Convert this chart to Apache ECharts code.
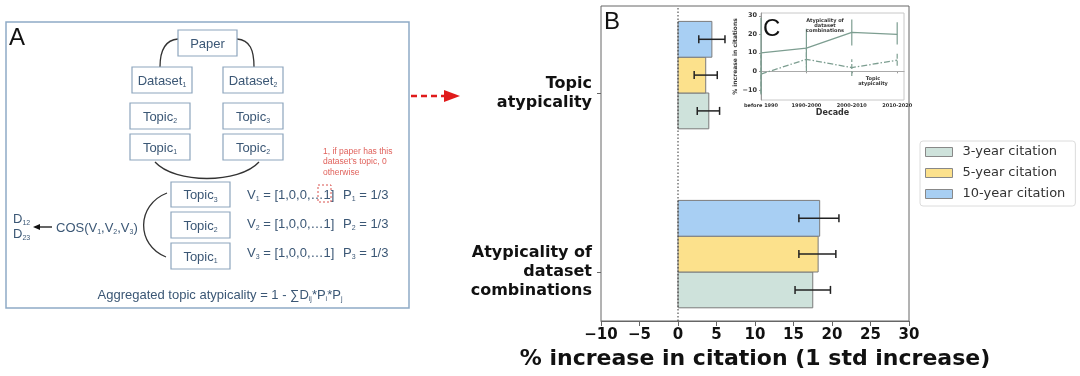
<!DOCTYPE html>
<html>
<head>
<meta charset="utf-8">
<script src="https://cdn.jsdelivr.net/npm/echarts@6/dist/echarts.min.js"></script>
<style>
  html, body { margin: 0; padding: 0; background: #fff; }
  #chart { width: 1080px; height: 376px; }
</style>
</head>
<body>
<div id="chart"></div>
<script>
// ---- panel B data (bars + std error bounds) ----
const mainCats = ['Atypicality of\ndataset\ncombinations', 'Topic\natypicality'];
const seriesNames = ['3-year citation', '5-year citation', '10-year citation'];
const val3yr = [17.5, 4.0];
const low3yr = [15.2, 2.5];
const high3yr = [19.8, 5.4];
const val5yr = [18.2, 3.6];
const low5yr = [15.7, 2.1];
const high5yr = [20.5, 5.1];
const val10yr = [18.4, 4.4];
const low10yr = [15.7, 2.7];
const high10yr = [20.9, 6.1];

// ---- panel C inset data ----
const decades = ['before 1990', '1990-2000', '2000-2010', '2010-2020'];
const comboLine = [10, 12.5, 21, 20];
const comboLow = [-12.5, 2, 14, 14.5];
const comboHigh = [29, 23, 28, 26.5];
const topicLine = [-1.5, 6.5, 2, 6];
const topicLow = [-12, 0, -2.5, 3];
const topicHigh = [9, 13, 6.5, 10];

const barColors = ['#cee2db', '#fce18c', '#a8cff3'];
const lineColor = '#7d9e91';

const chart = echarts.init(document.getElementById('chart'));

function barData(vals, lows, highs) {
  return mainCats.map(function (c, i) { return [vals[i], i, lows[i], highs[i]]; });
}

// slot: 0 = just below category centre, -1 / -2 stacked upward
function barRender(slot, color) {
  return function (params, api) {
    const cat = api.value(1);
    const c0 = api.coord([0, cat]);
    const c1 = api.coord([api.value(0), cat]);
    const h = api.size([0, 1])[1] * 0.2;
    const top = c0[1] + slot * h;
    const ym = top + h / 2;
    const lo = api.coord([api.value(2), cat])[0];
    const hi = api.coord([api.value(3), cat])[0];
    const errStyle = { stroke: '#222', lineWidth: 1.5 };
    return {
      type: 'group',
      children: [
        { type: 'rect', shape: { x: c0[0], y: top, width: c1[0] - c0[0], height: h },
          style: { fill: color, stroke: '#7a7a7a', lineWidth: 1 } },
        { type: 'line', shape: { x1: lo, y1: ym, x2: hi, y2: ym }, style: errStyle },
        { type: 'line', shape: { x1: lo, y1: ym - 4, x2: lo, y2: ym + 4 }, style: errStyle },
        { type: 'line', shape: { x1: hi, y1: ym - 4, x2: hi, y2: ym + 4 }, style: errStyle }
      ]
    };
  };
}

function errRender(dash) {
  return function (params, api) {
    const p0 = api.coord([api.value(0), api.value(1)]);
    const p1 = api.coord([api.value(0), api.value(2)]);
    return { type: 'line', shape: { x1: p0[0], y1: p0[1], x2: p1[0], y2: p1[1] },
      style: { stroke: lineColor, lineWidth: 1.2, lineDash: dash } };
  };
}

function minus(v) { return v < 0 ? '\u2212' + Math.abs(v) : String(v); }

// ---- panel A diagram helpers ----
const aFont = '"Liberation Sans", Arial, sans-serif';
const boxText = '#3b5775';
const richA = {
  n: { fontSize: 13, fontFamily: aFont, fill: boxText, lineHeight: 16 },
  s: { fontSize: 7, fontFamily: aFont, fill: boxText, lineHeight: 9, verticalAlign: 'bottom' }
};
function aText(x, y, txt, align) {
  return { type: 'text', x: x, y: y, style: { text: txt, rich: richA, align: align || 'left', verticalAlign: 'middle' } };
}
function aBox(x, y, w, h, txt) {
  return [
    { type: 'rect', shape: { x: x, y: y, width: w, height: h }, style: { fill: '#fff', stroke: '#8da5bd', lineWidth: 1.2 } },
    aText(x + w / 2, y + h / 2 + 1, txt, 'center')
  ];
}
function curve(pts) {
  return { type: 'bezierCurve', shape: { x1: pts[0], y1: pts[1], cpx1: pts[2], cpy1: pts[3], cpx2: pts[4], cpy2: pts[5], x2: pts[6], y2: pts[7] },
    style: { stroke: '#333', lineWidth: 1.3, fill: null } };
}

let graphics = [
  { type: 'rect', shape: { x: 6, y: 22, width: 403, height: 286 }, style: { fill: null, stroke: '#8eaac6', lineWidth: 1.5 } },
  { type: 'text', x: 9, y: 26, style: { text: 'A', fontSize: 24, fontFamily: aFont, fill: '#111' } },
  { type: 'text', x: 604, y: 10, style: { text: 'B', fontSize: 24, fontFamily: aFont, fill: '#111' } },
  { type: 'text', x: 763, y: 17, z: 20, style: { text: 'C', fontSize: 24, fontFamily: aFont, fill: '#111' } },
  curve([178, 39, 165, 40, 160, 50, 160, 67]),
  curve([237, 39, 250, 40, 254, 50, 254, 67]),
  curve([155, 162, 175, 184, 239, 184, 259, 162]),
  curve([167, 193, 136, 205, 136, 245, 166, 257]),
  { type: 'line', shape: { x1: 52, y1: 227, x2: 38, y2: 227 }, style: { stroke: '#111', lineWidth: 1.3 } },
  { type: 'polygon', shape: { points: [[33, 227], [40, 224], [40, 230]] }, style: { fill: '#111' } },
  aText(13, 219, '{n|D}{s|12}'),
  aText(13, 234, '{n|D}{s|23}'),
  aText(56, 228, '{n|COS(V}{s|1}{n|,V}{s|2}{n|,V}{s|3}{n|)}'),
  aText(247, 195, '{n|V}{s|1}{n| = [1,0,0,…1]}'),
  aText(247, 224, '{n|V}{s|2}{n| = [1,0,0,…1]}'),
  aText(247, 253, '{n|V}{s|3}{n| = [1,0,0,…1]}'),
  aText(343, 195, '{n|P}{s|1}{n| = 1/3}'),
  aText(343, 224, '{n|P}{s|2}{n| = 1/3}'),
  aText(343, 253, '{n|P}{s|3}{n| = 1/3}'),
  aText(220, 295, '{n|Aggregated topic atypicality = 1 - ∑D}{s|ij}{n|*P}{s|i}{n|*P}{s|j}', 'center'),
  { type: 'rect', shape: { x: 318, y: 185, width: 13, height: 17 }, style: { fill: null, stroke: '#d9534f', lineWidth: 1, lineDash: [2, 2] } },
  { type: 'text', x: 323, y: 146, style: { text: '1, if paper has this\ndataset\u2019s topic, 0\notherwise', fontSize: 8.5, lineHeight: 10.5, fontFamily: aFont, fill: '#e0625c' } },
  // red dashed arrow between panels
  { type: 'line', shape: { x1: 411, y1: 96, x2: 447, y2: 96 }, style: { stroke: '#e01b1b', lineWidth: 2.5, lineDash: [6, 4] } },
  { type: 'polygon', shape: { points: [[444, 90], [460, 96], [444, 102]] }, style: { fill: '#e01b1b' } },
  // inset annotations
  { type: 'text', x: 825, y: 26, z: 20, style: { text: 'Atypicality of\ndataset\ncombinations', fontSize: 5, lineHeight: 5, fontWeight: 'bold', fontFamily: 'DejaVu Sans', fill: '#333', align: 'center', verticalAlign: 'middle' } },
  { type: 'text', x: 873, y: 81, z: 20, style: { text: 'Topic\natypicality', fontSize: 5, lineHeight: 5, fontWeight: 'bold', fontFamily: 'DejaVu Sans', fill: '#333', align: 'center', verticalAlign: 'middle' } }
];
graphics = graphics
  .concat(aBox(178, 30, 59, 26, '{n|Paper}'))
  .concat(aBox(132, 67, 60, 26, '{n|Dataset}{s|1}'))
  .concat(aBox(223, 67, 60, 26, '{n|Dataset}{s|2}'))
  .concat(aBox(130, 103, 60, 26, '{n|Topic}{s|2}'))
  .concat(aBox(223, 103, 60, 26, '{n|Topic}{s|3}'))
  .concat(aBox(130, 134, 60, 26, '{n|Topic}{s|1}'))
  .concat(aBox(223, 134, 60, 26, '{n|Topic}{s|2}'))
  .concat(aBox(171, 182, 59, 25, '{n|Topic}{s|3}'))
  .concat(aBox(171, 212, 59, 26, '{n|Topic}{s|2}'))
  .concat(aBox(171, 243, 59, 26, '{n|Topic}{s|1}'));

const tickFont = { fontFamily: 'DejaVu Sans', fontWeight: 'bold', color: '#111' };

let option = {
  animation: false,
  backgroundColor: '#fff',
  graphic: graphics,
  legend: {
    left: 920, top: 141, orient: 'vertical',
    icon: 'rect', itemWidth: 27, itemHeight: 9, itemGap: 7,
    padding: [4, 10, 5, 5],
    borderColor: '#dcdcdc', borderWidth: 1, borderRadius: 3, backgroundColor: '#fff',
    selectedMode: false,
    textStyle: { fontFamily: 'DejaVu Sans', fontSize: 13, lineHeight: 14, color: '#333', padding: [0, 0, 0, 5] },
    data: seriesNames.map(function (n, i) {
      return { name: n, itemStyle: { color: barColors[i], borderColor: '#888', borderWidth: 1 } };
    })
  },
  grid: [
    { left: 601, top: 6, width: 308, height: 315, show: true, borderColor: '#666', borderWidth: 1, backgroundColor: 'transparent' },
    { left: 601, top: 3.5, width: 308, height: 358 },
    { left: 761, top: 13, width: 143, height: 87, show: true, borderColor: '#c8c8c8', borderWidth: 1, backgroundColor: '#fff' }
  ],
  xAxis: [
    {
      gridIndex: 0, type: 'value', min: -10, max: 30, interval: 5,
      splitLine: { show: false },
      axisLine: { lineStyle: { color: '#666' } },
      axisTick: { length: 5, lineStyle: { color: '#666' } },
      axisLabel: Object.assign({ fontSize: 15, margin: 7, formatter: minus }, tickFont),
      name: '% increase in citation (1 std increase)',
      nameLocation: 'middle', nameGap: 25,
      nameTextStyle: { fontFamily: 'DejaVu Sans', fontWeight: 'bold', fontSize: 22, color: '#111' }
    },
    { gridIndex: 1, type: 'value', min: -10, max: 30, show: false },
    {
      gridIndex: 2, type: 'value', min: 0, max: 3.15, interval: 1,
      splitLine: { show: false },
      axisLine: { lineStyle: { color: '#999' } },
      axisTick: { length: 2, lineStyle: { color: '#999' } },
      axisLabel: { fontSize: 5, margin: 3, fontFamily: 'DejaVu Sans', fontWeight: 'bold', color: '#333',
        showMaxLabel: false, formatter: function (v) { return decades[v] || ''; } },
      name: 'Decade', nameLocation: 'middle', nameGap: 9,
      nameTextStyle: { fontFamily: 'DejaVu Sans', fontWeight: 'bold', fontSize: 8, color: '#333' }
    }
  ],
  yAxis: [
    { gridIndex: 0, type: 'value', min: 0, max: 1, show: false },
    {
      gridIndex: 1, type: 'category', data: mainCats,
      axisLine: { show: false, onZero: false },
      axisTick: { show: true, alignWithLabel: true, length: 4, lineStyle: { color: '#666' } },
      axisLabel: Object.assign({ fontSize: 16, lineHeight: 19, margin: 9, align: 'right' }, tickFont)
    },
    {
      gridIndex: 2, type: 'value', min: -15.5, max: 31.5,
      splitLine: { show: false },
      axisLine: { show: true, onZero: false, lineStyle: { color: '#999' } },
      axisTick: { show: true, length: 2, lineStyle: { color: '#999' } },
      axisLabel: { fontSize: 6.5, margin: 4, fontFamily: 'DejaVu Sans', fontWeight: 'bold', color: '#333',
        showMinLabel: false, showMaxLabel: false, formatter: minus },
      name: '% increase in citations', nameLocation: 'middle', nameGap: 17, nameRotate: 90,
      nameTextStyle: { fontFamily: 'DejaVu Sans', fontWeight: 'bold', fontSize: 6, color: '#333' }
    }
  ],
  series: [
    { name: seriesNames[0], type: 'custom', xAxisIndex: 1, yAxisIndex: 1, encode: { x: 0, y: 1 },
      itemStyle: { color: barColors[0] }, renderItem: barRender(0, barColors[0]),
      data: barData(val3yr, low3yr, high3yr) },
    { name: seriesNames[1], type: 'custom', xAxisIndex: 1, yAxisIndex: 1, encode: { x: 0, y: 1 },
      itemStyle: { color: barColors[1] }, renderItem: barRender(-1, barColors[1]),
      data: barData(val5yr, low5yr, high5yr) },
    { name: seriesNames[2], type: 'custom', xAxisIndex: 1, yAxisIndex: 1, encode: { x: 0, y: 1 },
      itemStyle: { color: barColors[2] }, renderItem: barRender(-2, barColors[2]),
      data: barData(val10yr, low10yr, high10yr) },
    // dotted zero line of panel B
    { type: 'custom', xAxisIndex: 0, yAxisIndex: 0, silent: true, data: [[0]],
      renderItem: function (params, api) {
        const a = api.coord([0, 0]);
        const b = api.coord([0, 1]);
        return { type: 'line', shape: { x1: a[0], y1: a[1], x2: b[0], y2: b[1] },
          style: { stroke: '#333', lineWidth: 1, lineDash: [1.5, 2] } };
      } },
    // panel C inset
    { type: 'line', xAxisIndex: 2, yAxisIndex: 2, symbol: 'none', z: 5,
      lineStyle: { color: lineColor, width: 1.3 },
      data: comboLine.map(function (v, i) { return [i, v]; }),
      markLine: { silent: true, symbol: 'none', label: { show: false },
        lineStyle: { color: '#aaa', width: 1, type: 'solid' }, data: [{ yAxis: 0 }] } },
    { type: 'line', xAxisIndex: 2, yAxisIndex: 2, symbol: 'none', z: 5,
      lineStyle: { color: lineColor, width: 1.3, type: [6, 2, 1.5, 2] },
      data: topicLine.map(function (v, i) { return [i, v]; }) },
    { type: 'custom', xAxisIndex: 2, yAxisIndex: 2, z: 5, encode: { x: 0, y: [1, 2] },
      renderItem: errRender(null),
      data: comboLow.map(function (v, i) { return [i, v, comboHigh[i]]; }) },
    { type: 'custom', xAxisIndex: 2, yAxisIndex: 2, z: 5, encode: { x: 0, y: [1, 2] },
      renderItem: errRender([5, 2]),
      data: topicLow.map(function (v, i) { return [i, v, topicHigh[i]]; }) }
  ]
};
chart.setOption(option);
</script>
</body>
</html>
